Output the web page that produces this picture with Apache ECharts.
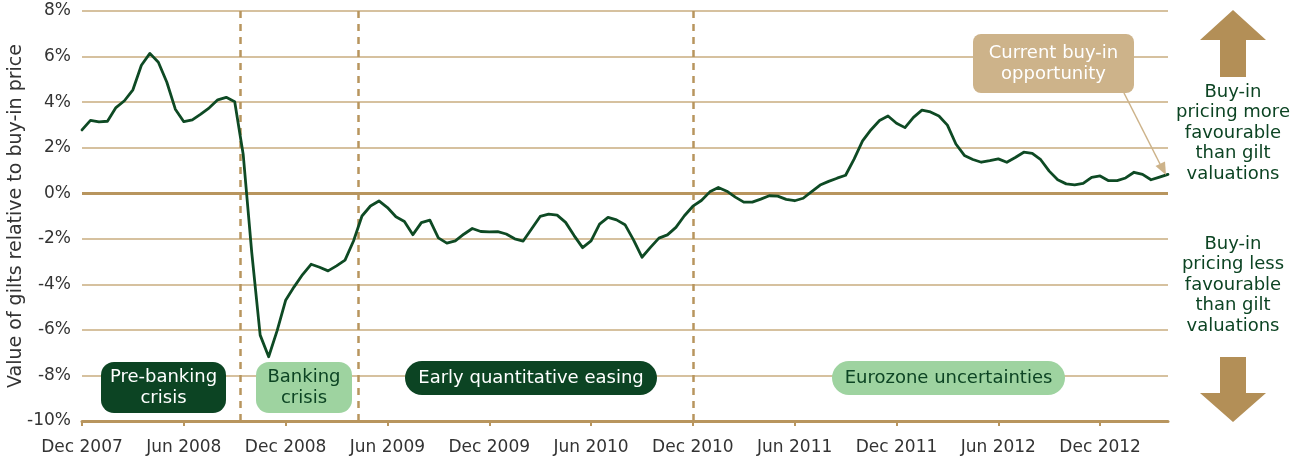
<!DOCTYPE html>
<html><head><meta charset="utf-8">
<script src="https://cdn.jsdelivr.net/npm/echarts@6/dist/echarts.min.js"></script>
<style>html,body{margin:0;padding:0;background:#fff}#c{width:1298px;height:461px}</style>
</head><body><div id="c"></div>
<script>
// x = months since Dec 2007 (half-month steps)
const tickLabels = ['Dec 2007','Jun 2008','Dec 2008','Jun 2009','Dec 2009','Jun 2010','Dec 2010','Jun 2011','Dec 2011','Jun 2012','Dec 2012'];
const tickMonths = [0,6,12,18,24,30,36,42,48,54,60];
const gilts = [
2.78, 3.2, 3.13, 3.16, 3.76, 4.06, 4.54, 5.62, 6.14, 5.75,
4.87, 3.69, 3.14, 3.22, 3.47, 3.75, 4.10, 4.21, 4.02, 1.7,
-2.57, -6.23, -7.18, -6.03, -4.70, -4.11, -3.57, -3.12, -3.25, -3.41,
-3.19, -2.94, -2.10, -1.0, -0.56, -0.34, -0.63, -1.03, -1.24, -1.82,
-1.29, -1.18, -1.96, -2.19, -2.09, -1.80, -1.55, -1.68, -1.70, -1.69,
-1.79, -2.0, -2.10, -1.56, -1.02, -0.92, -0.96, -1.28, -1.86, -2.39,
-2.09, -1.36, -1.06, -1.17, -1.38, -2.05, -2.81, -2.38, -1.97, -1.83,
-1.50, -0.99, -0.57, -0.32, 0.06, 0.25, 0.09, -0.17, -0.39, -0.39,
-0.26, -0.11, -0.13, -0.27, -0.33, -0.22, 0.07, 0.36, 0.52, 0.66,
0.79, 1.50, 2.30, 2.79, 3.19, 3.39, 3.07, 2.88, 3.33, 3.65,
3.57, 3.39, 2.99, 2.16, 1.66, 1.48, 1.36, 1.43, 1.51, 1.36,
1.57, 1.80, 1.75, 1.47, 0.97, 0.59, 0.41, 0.37, 0.43, 0.70,
0.76, 0.55, 0.55, 0.67, 0.92, 0.83, 0.59, 0.71, 0.83
];
const eventMonths = [9.3, 16.3, 36];
const phaseLabels = ['Pre-banking\ncrisis', 'Banking\ncrisis', 'Early quantitative easing', 'Eurozone uncertainties'];
const calloutLabel = 'Current buy-in\nopportunity';
const sideLabels = ['Buy-in\npricing more\nfavourable\nthan gilt\nvaluations', 'Buy-in\npricing less\nfavourable\nthan gilt\nvaluations'];

const FONT = 'DejaVu Sans';
const TAN = '#b8955e', GRID = '#c9ac7f', DKG = '#0c4423', LTG = '#9ed3a0', ARROW = '#b38f57', BOXTAN = '#cdb38a';
const LINE = '#0e4a24';

const chart = echarts.init(document.getElementById('c'), null, {renderer: 'canvas'});

function txt(x, y, text, fill, size, lh) {
  return {type: 'text', x: x, y: y, z: 20,
    style: {text: text, fill: fill, font: size + 'px "' + FONT + '"', fontSize: size, fontFamily: FONT,
      align: 'center', verticalAlign: 'middle', textAlign: 'center', textVerticalAlign: 'middle', lineHeight: lh}};
}
function box(x, y, w, h, r, fill) {
  return {type: 'rect', z: 15, shape: {x: x, y: y, width: w, height: h, r: r}, style: {fill: fill}};
}

const option = {
  animation: false,
  backgroundColor: '#fff',
  grid: {left: 82, right: 130, top: 11, bottom: 40, containLabel: false, outerBoundsMode: 'none'},
  xAxis: {
    type: 'value', min: 0, max: 64,
    axisLine: {show: true, onZero: false, lineStyle: {color: TAN, width: 3}},
    axisTick: {show: true, customValues: tickMonths, length: 5, lineStyle: {color: TAN, width: 2}},
    axisLabel: {customValues: tickMonths, margin: 18, color: '#333', fontFamily: FONT, fontSize: 17,
      formatter: v => tickLabels[tickMonths.indexOf(v)] || ''},
    splitLine: {show: false}
  },
  yAxis: {
    type: 'value', min: -10, max: 8, interval: 2,
    name: 'Value of gilts relative to buy-in price', nameLocation: 'middle', nameRotate: 90, nameGap: 56,
    nameMoveOverlap: false,
    nameTextStyle: {color: '#333', fontFamily: FONT, fontSize: 19},
    axisLine: {show: false}, axisTick: {show: false},
    axisLabel: {margin: 11, color: '#333', fontFamily: FONT, fontSize: 17, formatter: '{value}%'},
    splitLine: {show: true, lineStyle: {color: GRID, width: 1.5}}
  },
  series: [{
    type: 'line',
    data: gilts.map((v, i) => [i / 2, v]),
    showSymbol: false, symbol: 'none',
    lineStyle: {color: LINE, width: 2.8, join: 'round', cap: 'round'},
    z: 10,
    markLine: {
      silent: true, symbol: ['none', 'none'], label: {show: false},
      data: eventMonths.map(m => ({xAxis: m, lineStyle: {type: [7, 6], color: TAN, width: 2.5}}))
        .concat([{yAxis: 0, lineStyle: {type: 'solid', color: TAN, width: 3}}])
    }
  }],
  graphic: [
    box(101, 362, 125, 51, 13, DKG), txt(163.5, 388, phaseLabels[0], '#fff', 18, 21),
    box(256, 362, 96, 51, 13, LTG), txt(304, 388, phaseLabels[1], DKG, 18, 21),
    box(405, 361, 252, 34, 17, DKG), txt(531, 378.5, phaseLabels[2], '#fff', 18, 21),
    box(832, 361, 233, 34, 17, LTG), txt(948.5, 378.5, phaseLabels[3], DKG, 18, 21),
    box(973, 34, 161, 59, 8, BOXTAN), txt(1053.5, 64, calloutLabel, '#fff', 18, 21),
    {type: 'line', z: 14, shape: {x1: 1124, y1: 93, x2: 1160, y2: 164}, style: {stroke: BOXTAN, lineWidth: 1.5}},
    {type: 'polygon', z: 14, shape: {points: [[1166, 175], [1155.5, 166], [1165, 161.5]]}, style: {fill: BOXTAN}},
    {type: 'polygon', z: 14, shape: {points: [[1233, 10], [1266, 40], [1246, 40], [1246, 77], [1220, 77], [1220, 40], [1200, 40]]}, style: {fill: ARROW}},
    {type: 'polygon', z: 14, shape: {points: [[1220, 357], [1246, 357], [1246, 393], [1266, 393], [1233, 422], [1200, 393], [1220, 393]]}, style: {fill: ARROW}},
    txt(1233, 133, sideLabels[0], DKG, 18, 20.5),
    txt(1233, 285, sideLabels[1], DKG, 18, 20.5)
  ]
};
chart.setOption(option);
</script>
</body></html>
